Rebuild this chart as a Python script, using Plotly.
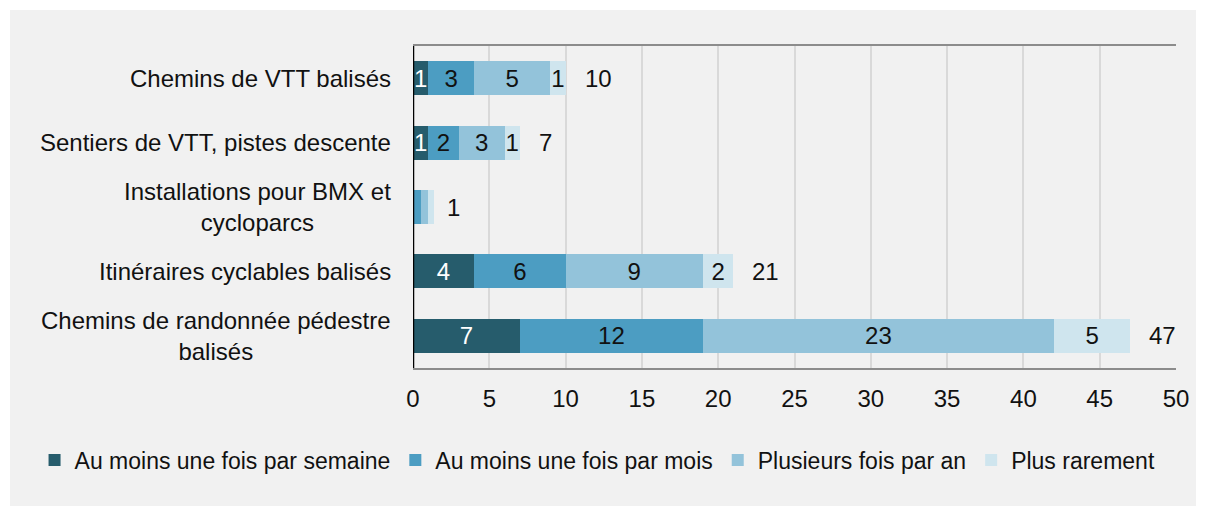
import plotly.graph_objects as go

categories = [
    "Chemins de VTT balisés",
    "Sentiers de VTT, pistes descente",
    "Installations pour BMX et<br>cycloparcs",
    "Itinéraires cyclables balisés",
    "Chemins de randonnée pédestre<br>balisés",
]
series_names = [
    "Au moins une fois par semaine",
    "Au moins une fois par mois",
    "Plusieurs fois par an",
    "Plus rarement",
]
weekly = [1, 1, 0.05, 4, 7]
monthly = [3, 2, 0.45, 6, 12]
yearly = [5, 3, 0.45, 9, 23]
rarely = [1, 1, 0.45, 2, 5]
weekly_lbl = ["1", "1", "", "4", "7"]
monthly_lbl = ["3", "2", "", "6", "12"]
yearly_lbl = ["5", "3", "", "9", "23"]
rarely_lbl = ["1", "1", "", "2", "5"]
totals = [10, 7, 1, 21, 47]
x_ticks = [0, 5, 10, 15, 20, 25, 30, 35, 40, 45, 50]

colors = ["#265c6c", "#4c9dc2", "#93c3da", "#cfe5ee"]
text_colors = ["#ffffff", "#111111", "#111111", "#111111"]
FONT = "Liberation Sans, Arial, sans-serif"
FS = 24
LFS = 23

W, H = 1198, 508
L, R, T, B = 405, 30, 38, 148
PW, PH = W - L - R, H - T - B

fig = go.Figure()
for name, vals, lbl, c, tc in zip(series_names, [weekly, monthly, yearly, rarely],
                                  [weekly_lbl, monthly_lbl, yearly_lbl, rarely_lbl],
                                  colors, text_colors):
    fig.add_trace(go.Bar(
        y=categories, x=vals, orientation="h", name=name,
        marker=dict(color=c, line=dict(width=0)),
        text=lbl, textposition="inside", insidetextanchor="middle",
        textangle=0, constraintext="none",
        textfont=dict(color=tc, size=FS, family=FONT),
        hoverinfo="skip",
    ))

for cat, t in zip(categories, totals):
    fig.add_annotation(x=t, y=cat, xref="x", yref="y", text=str(t),
                       showarrow=False, xanchor="left", xshift=17,
                       font=dict(size=FS, color="#111111", family=FONT))
    fig.add_annotation(x=0, y=cat, xref="paper", yref="y", text=cat,
                       showarrow=False, xanchor="right", xshift=-20, align="center",
                       font=dict(size=FS, color="#111111", family=FONT))

# background panel (fig coords 2..1188 x, 2..498 y)
fig.add_shape(type="rect", xref="paper", yref="paper", layer="below",
              x0=(2 - L) / PW, x1=(1188 - L) / PW,
              y0=-(498 - (H - B)) / PH, y1=1 + (T - 2) / PH,
              fillcolor="#f1f1f1", line=dict(width=0))

fig.update_layout(
    width=W, height=H,
    margin=dict(l=L, r=R, t=T, b=B),
    paper_bgcolor="#ffffff", plot_bgcolor="#f1f1f1",
    barmode="stack", bargap=0.47,
    font=dict(family=FONT, size=FS, color="#111111"),
    uniformtext=dict(minsize=8, mode="show"),
    xaxis=dict(range=[0, 50], tickvals=x_ticks, showgrid=True, gridcolor="#d9d9d9",
               gridwidth=2, zeroline=False, showline=True, linecolor="#8c8c8c",
               linewidth=1.5, mirror=True, ticks="", tickfont=dict(size=FS, color="#111111"),
               ticklabelstandoff=8),
    yaxis=dict(autorange="reversed", showticklabels=False, showgrid=False,
               zeroline=False, showline=False, ticks=""),
    legend=dict(orientation="h", x=-0.496, xanchor="left", y=-0.286, yanchor="middle",
                font=dict(size=LFS, color="#111111", family=FONT), bgcolor="rgba(0,0,0,0)",
                traceorder="normal", itemwidth=30),
    showlegend=True,
)
# left axis line (black)
fig.add_shape(type="line", xref="x", yref="paper", x0=0, x1=0, y0=0, y1=1,
              line=dict(color="#000000", width=2.5))

fig.write_html("out.html")
